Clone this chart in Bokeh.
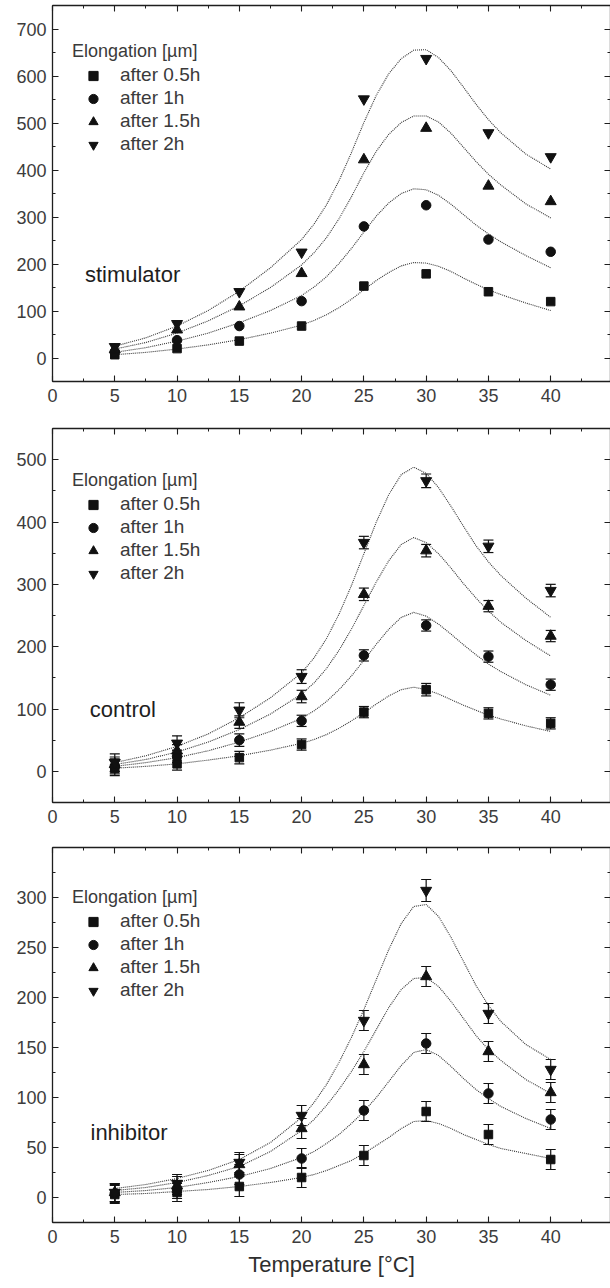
from bokeh.plotting import figure
from bokeh.models import (ColumnDataSource, Whisker, TeeHead, Legend, LegendItem, Label,
                          LinearAxis, FixedTicker, Range1d, CustomLabelingPolicy)
from bokeh.layouts import column
from bokeh.embed import file_html
from bokeh.resources import INLINE

# ---------------- data ----------------
TEMPS = [5, 10, 15, 20, 25, 30, 35, 40]
FIT_T = [5, 7.5, 10, 12.5, 15, 17.5, 20, 21, 22, 23, 24, 25, 26, 27, 28, 29,
         30, 31, 32, 33, 34, 35, 36, 38, 40]
SERIES = ["after 0.5h", "after 1h", "after 1.5h", "after 2h"]
LEGEND_TITLE = "Elongation [\u00b5m]"
X_TICKS = [0, 5, 10, 15, 20, 25, 30, 35, 40]
X_LABEL = "Temperature [\u00b0C]"
PANEL_NAMES = ["stimulator", "control", "inhibitor"]

# stimulator
STIM_05 = [7, 20, 36, 68, 153, 179, 141, 120]
STIM_10 = [13, 38, 68, 121, 280, 325, 252, 226]
STIM_15 = [18, 60, 109, 180, 422, 489, 366, 333]
STIM_20 = [24, 73, 141, 225, 551, 637, 479, 428]
STIM_FIT_05 = [7, 12, 19, 28, 39, 53, 70, 80, 92, 107, 125, 145, 165, 182, 196, 203,
               202, 195, 184, 170, 157, 145, 135, 117, 101]
STIM_FIT_10 = [12, 22, 36, 53, 75, 101, 133, 151, 173, 201, 233, 268, 302, 330, 350, 360,
               358, 346, 327, 305, 283, 264, 247, 218, 192]
STIM_FIT_15 = [19, 33, 53, 79, 111, 150, 198, 224, 256, 296, 343, 394, 440, 476, 501, 515,
               515, 502, 478, 448, 418, 391, 368, 328, 298]
STIM_FIT_20 = [25, 43, 68, 101, 142, 192, 252, 285, 326, 377, 437, 501, 559, 605, 637, 655,
               656, 639, 611, 576, 540, 507, 479, 434, 402]

# control
CTRL_05 = [5, 12, 22, 43, 95, 131, 93, 77]
CTRL_10 = [8, 24, 50, 81, 186, 234, 184, 139]
CTRL_15 = [11, 33, 79, 120, 284, 354, 265, 217]
CTRL_20 = [14, 45, 98, 152, 367, 466, 361, 290]
CTRL_ERR_05 = [12, 10, 10, 9, 9, 10, 9, 9]
CTRL_ERR_10 = [12, 10, 10, 9, 9, 9, 9, 9]
CTRL_ERR_15 = [12, 10, 10, 10, 10, 10, 9, 9]
CTRL_ERR_20 = [14, 12, 12, 11, 10, 11, 10, 10]
CTRL_FIT_05 = [5, 8, 12, 18, 25, 34, 45, 51, 59, 69, 81, 94, 108, 121, 131, 135,
               131, 124, 115, 106, 98, 90, 84, 73, 64]
CTRL_FIT_10 = [8, 14, 22, 33, 47, 64, 85, 97, 112, 131, 153, 178, 204, 228, 247, 255,
               249, 236, 220, 203, 187, 172, 160, 139, 122]
CTRL_FIT_15 = [11, 19, 31, 47, 67, 92, 124, 142, 165, 194, 228, 266, 304, 338, 364, 375,
               367, 349, 326, 301, 278, 257, 239, 210, 185]
CTRL_FIT_20 = [14, 25, 40, 60, 86, 118, 158, 182, 213, 252, 298, 349, 400, 444, 476, 488,
               478, 455, 425, 393, 362, 336, 314, 278, 247]

# inhibitor
INHIB_05 = [3, 5, 11, 20, 42, 86, 63, 38]
INHIB_10 = [4, 8, 23, 39, 87, 154, 104, 78]
INHIB_15 = [5, 12, 33, 69, 133, 221, 146, 105]
INHIB_20 = [5, 14, 35, 82, 177, 307, 184, 128]
INHIB_ERR_05 = [9, 9, 10, 10, 10, 10, 10, 10]
INHIB_ERR_10 = [9, 9, 10, 10, 10, 10, 10, 10]
INHIB_ERR_15 = [9, 9, 10, 10, 10, 10, 10, 10]
INHIB_ERR_20 = [9, 9, 10, 10, 10, 11, 10, 10]
INHIB_FIT_05 = [3, 4, 6, 8, 11, 15, 20, 23, 27, 32, 37, 44, 52, 60, 69, 76,
                77, 74, 69, 63, 58, 53, 49, 44, 39]
INHIB_FIT_10 = [5, 7, 10, 15, 21, 29, 40, 46, 54, 63, 74, 86, 100, 116, 132, 145,
                148, 142, 131, 119, 108, 99, 91, 79, 69]
INHIB_FIT_15 = [7, 10, 15, 22, 31, 46, 67, 78, 92, 108, 126, 146, 168, 190, 208, 219,
                220, 211, 196, 179, 162, 148, 137, 118, 104]
INHIB_FIT_20 = [9, 13, 19, 27, 38, 55, 80, 95, 113, 135, 160, 188, 218, 248, 274, 291,
                293, 281, 260, 236, 212, 192, 176, 153, 138]

# ---------------- styling ----------------
FONT = "Liberation Sans"
TXT = "#2e2e2e"
AX = "#1e1e1e"
MARKERS = ["square", "circle", "triangle", "inverted_triangle"]
MSIZE = [8.5, 9.5, 11, 11]

HIDE_LABELS = CustomLabelingPolicy(
    code="for (let i = 0; i < indices.size; i++) { indices.unset(i) }\nreturn indices")


def style_axis(ax, ticks, minor, show_labels, standoff):
    ax.ticker = FixedTicker(ticks=ticks, minor_ticks=minor)
    ax.axis_line_color = AX
    ax.axis_line_width = 1.3
    ax.major_tick_line_color = AX
    ax.minor_tick_line_color = AX
    ax.major_tick_line_width = 1.1
    ax.minor_tick_line_width = 1.0
    ax.major_tick_in = 6
    ax.major_tick_out = 0
    ax.minor_tick_in = 3
    ax.minor_tick_out = 0
    ax.major_label_text_font = FONT
    ax.major_label_text_color = "#3c3c3c"
    if show_labels:
        ax.major_label_text_font_size = "18px"
        ax.major_label_standoff = standoff
    else:
        ax.major_label_policy = HIDE_LABELS
        ax.major_label_text_font_size = "0px"
        ax.major_label_standoff = 0


def make_panel(points, errs, fits, y_rng, y_step, name, name_xy, top, frame_h, bottom,
               title_center, xlabel):
    height = top + frame_h + bottom
    p = figure(width=610, height=height, x_range=Range1d(0, 44.8),
               y_range=Range1d(*y_rng), output_backend="svg", toolbar_location=None,
               min_border_left=52, min_border_right=0, min_border_top=top,
               min_border_bottom=bottom, outline_line_color=None)
    p.grid.visible = False

    y_major = [v for v in range(0, y_rng[1], y_step)]
    half = y_step / 2
    y_minor = [y_rng[0] + k * half for k in range(int((y_rng[1] - y_rng[0]) / half) + 1)]
    x_minor = [k * 2.5 for k in range(19)]

    bottom_ax = p.xaxis[0]
    left_ax = p.yaxis[0]
    style_axis(bottom_ax, X_TICKS, x_minor, True, 7)
    style_axis(left_ax, y_major, y_minor, True, 6)
    top_ax = LinearAxis()
    right_ax = LinearAxis()
    style_axis(top_ax, X_TICKS + [45], x_minor, False, 0)
    style_axis(right_ax, y_major, y_minor, False, 0)
    p.add_layout(top_ax, "above")
    p.add_layout(right_ax, "right")

    if xlabel:
        bottom_ax.axis_label = xlabel
        bottom_ax.axis_label_text_font = FONT
        bottom_ax.axis_label_text_font_size = "22px"
        bottom_ax.axis_label_text_font_style = "normal"
        bottom_ax.axis_label_text_color = TXT
        bottom_ax.axis_label_standoff = 6

    items = []
    for i in range(4):
        p.line(FIT_T, fits[i], line_color="#333333", line_width=1.1, line_dash="1 1")
    for i in range(4):
        if errs is not None:
            src = ColumnDataSource(dict(x=TEMPS,
                                        lo=[v - e for v, e in zip(points[i], errs[i])],
                                        hi=[v + e for v, e in zip(points[i], errs[i])]))
            w = Whisker(source=src, base="x", lower="lo", upper="hi", dimension="height",
                        line_color="#111111", line_width=1.2,
                        lower_head=TeeHead(size=10, line_color="#111111", line_width=1.2),
                        upper_head=TeeHead(size=10, line_color="#111111", line_width=1.2))
            p.add_layout(w)
    for i in range(4):
        r = p.scatter(TEMPS, points[i], marker=MARKERS[i], size=MSIZE[i],
                      fill_color="#111111", line_color="#111111")
        items.append(LegendItem(label=SERIES[i], renderers=[r]))

    title_h = 21
    legend_h = title_h + 2 + 4 * 23
    legend_top = title_center - title_h / 2
    vy = frame_h - legend_top - legend_h
    leg = Legend(items=items, location=(20, vy), title=LEGEND_TITLE,
                 title_text_font=FONT, title_text_font_size="18px",
                 title_text_font_style="normal", title_text_color="#3a3a3a",
                 title_standoff=2, label_text_font=FONT, label_text_font_size="19px",
                 label_text_color="#3a3a3a", glyph_width=42, glyph_height=23,
                 label_height=23, label_standoff=6, spacing=0, padding=0, margin=0,
                 border_line_color=None, background_fill_alpha=0)
    p.add_layout(leg)

    p.add_layout(Label(x=name_xy[0], y=name_xy[1], text=name, text_font=FONT,
                       text_font_size="22px", text_color="#1e1e1e", text_baseline="middle"))
    return p


p1 = make_panel([STIM_05, STIM_10, STIM_15, STIM_20], None,
                [STIM_FIT_05, STIM_FIT_10, STIM_FIT_15, STIM_FIT_20],
                (-50, 750), 100, PANEL_NAMES[0], (2.6, 177), 5, 376, 39, 46, None)
p2 = make_panel([CTRL_05, CTRL_10, CTRL_15, CTRL_20],
                [CTRL_ERR_05, CTRL_ERR_10, CTRL_ERR_15, CTRL_ERR_20],
                [CTRL_FIT_05, CTRL_FIT_10, CTRL_FIT_15, CTRL_FIT_20],
                (-50, 550), 100, PANEL_NAMES[1], (3.0, 100), 8, 374, 40, 52, None)
p3 = make_panel([INHIB_05, INHIB_10, INHIB_15, INHIB_20],
                [INHIB_ERR_05, INHIB_ERR_10, INHIB_ERR_15, INHIB_ERR_20],
                [INHIB_FIT_05, INHIB_FIT_10, INHIB_FIT_15, INHIB_FIT_20],
                (-25, 350), 50, PANEL_NAMES[2], (3.05, 65), 5, 375, 66, 50, X_LABEL)

layout = column(p1, p2, p3, spacing=0)
open("out.html", "w").write(file_html(layout, INLINE))
